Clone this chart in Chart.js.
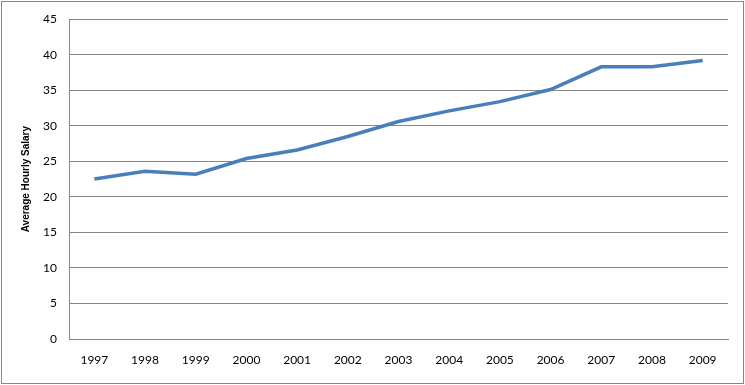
<!DOCTYPE html>
<html>
<head>
<meta charset="utf-8">
<script src="https://cdn.jsdelivr.net/npm/chart.js@4/dist/chart.umd.min.js"></script>
<style>
  body { margin: 0; background: #fff; }
  #wrap { width: 745px; height: 385px; position: relative; }
</style>
</head>
<body>
<div id="wrap"><canvas id="salaryChart" width="745" height="385"></canvas></div>
<script>
const years = ['1997', '1998', '1999', '2000', '2001', '2002', '2003', '2004', '2005', '2006', '2007', '2008', '2009'];
const avgHourlySalary = [22.5, 23.6, 23.2, 25.4, 26.6, 28.5, 30.6, 32.1, 33.4, 35.1, 38.3, 38.3, 39.2];
const yMin = 0, yMax = 45, yStep = 5;

// outer frame like the spreadsheet chart area
const frame = {
    id: 'frame',
    beforeDraw(chart) {
        const c = chart.ctx;
        c.save();
        c.fillStyle = '#fff';
        c.fillRect(0, 0, chart.width, chart.height);
        c.strokeStyle = '#868686';
        c.lineWidth = 1;
        c.strokeRect(1.5, 1.5, chart.width - 3, chart.height - 3);
        c.restore();
    }
};

document.addEventListener("DOMContentLoaded", function () {
    const ctx = document.getElementById('salaryChart').getContext('2d');

    new Chart(ctx, {
        type: 'line',
        data: {
            labels: years,
            datasets: [{
                label: 'Average Hourly Salary',
                data: avgHourlySalary,
                borderColor: '#4A7EBB',
                borderWidth: 3.5,
                pointRadius: 0,
                tension: 0
            }]
        },
        options: {
            responsive: false,
            animation: false,
            layout: { padding: { top: 16, right: 17, bottom: 0, left: 0 } },
            plugins: {
                legend: { display: false },
                tooltip: { enabled: false }
            },
            scales: {
                x: {
                    offset: true,
                    grid: { display: false },
                    border: { display: true, color: '#868686', width: 1 },
                    ticks: { color: '#000', padding: 6, font: { family: 'Lato', size: 12 } },
                    afterFit(scale) { scale.height = 46; }
                },
                y: {
                    min: yMin,
                    max: yMax,
                    ticks: { stepSize: yStep, color: '#000', padding: 12, font: { family: 'Lato', size: 12 } },
                    grid: { color: '#868686', drawTicks: false },
                    border: { display: true, color: '#868686' },
                    title: {
                        display: true,
                        text: 'Average Hourly Salary',
                        color: '#000',
                        font: { family: '"Liberation Sans", Arial, sans-serif', size: 10, weight: 'bold' },
                        padding: { top: 20, bottom: 0 }
                    },
                    afterFit(scale) { scale.width = 69; }
                }
            }
        },
        plugins: [frame]
    });
});
</script>
</body>
</html>
